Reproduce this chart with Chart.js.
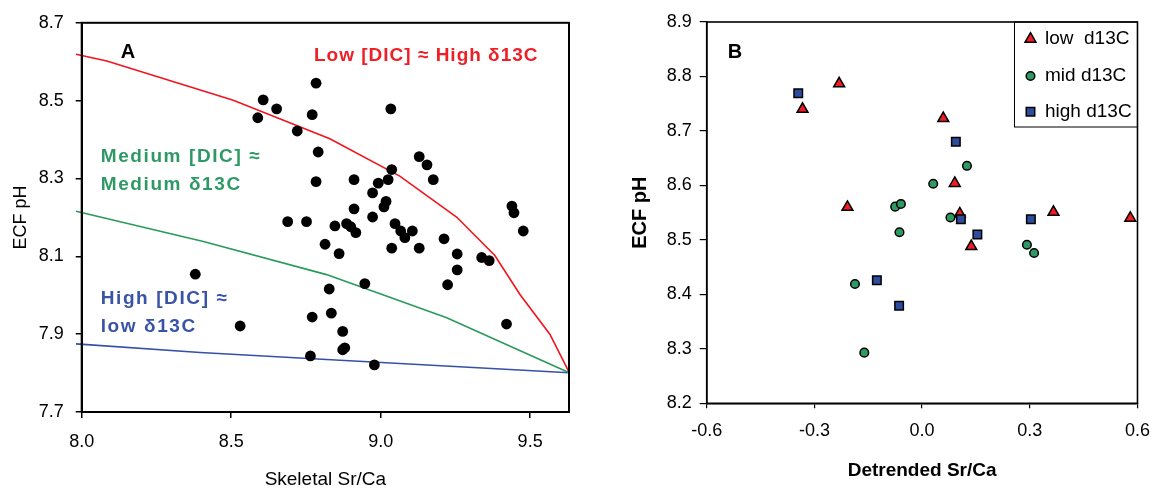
<!DOCTYPE html>
<html><head><meta charset="utf-8">
<script src="https://cdn.jsdelivr.net/npm/chart.js@4.4.1/dist/chart.umd.min.js"></script>
<style>
html,body{margin:0;padding:0;background:#fff;}
#wrap{position:relative;width:1162px;height:491px;overflow:hidden;}
#ca{position:absolute;left:0;top:0;width:590px;height:491px;}
#cb{position:absolute;left:590px;top:0;width:572px;height:491px;}
</style></head><body>
<div id="wrap"><canvas id="ca" width="590" height="491"></canvas><canvas id="cb" width="572" height="491"></canvas></div>
<script>
// ---------- Panel A data ----------
const srcaA = [8.589, 8.607, 8.652, 8.784, 8.771, 8.721, 8.791, 8.784, 9.034, 8.911,
  8.992, 9.025, 9.037, 8.973, 9.018, 9.011, 8.911, 8.973, 9.129, 9.155,
  9.176, 8.689, 8.752, 8.847, 8.886, 8.900, 8.917, 9.048, 9.067, 9.081,
  9.106, 9.212, 9.439, 9.446, 9.477, 8.814, 8.861, 9.037, 9.129, 9.256,
  9.338, 9.363, 9.256, 9.224, 8.380, 8.947, 8.828, 8.530, 8.771, 8.835,
  8.873, 8.873, 8.880, 8.765, 8.979, 9.421];
const phA = [8.456, 8.502, 8.479, 8.545, 8.464, 8.422, 8.368, 8.292, 8.479, 8.297,
  8.288, 8.297, 8.323, 8.263, 8.241, 8.227, 8.222, 8.201, 8.356, 8.335,
  8.297, 8.189, 8.189, 8.178, 8.184, 8.176, 8.161, 8.184, 8.165, 8.148,
  8.165, 8.145, 8.229, 8.212, 8.165, 8.131, 8.107, 8.121, 8.121, 8.106,
  8.097, 8.089, 8.065, 8.027, 8.054, 8.030, 8.016, 7.921, 7.944, 7.954,
  7.907, 7.860, 7.865, 7.844, 7.821, 7.926];
const redX = [7.981, 8.084, 8.507, 8.830, 9.064, 9.254, 9.382, 9.466, 9.566, 9.631];
const redY = [8.619, 8.602, 8.501, 8.402, 8.306, 8.201, 8.102, 8.002, 7.900, 7.801];
const greenX = [7.981, 8.407, 8.819, 9.221, 9.631];
const greenY = [8.216, 8.138, 8.053, 7.942, 7.801];
const blueX = [7.981, 8.396, 8.819, 9.631];
const blueY = [7.875, 7.853, 7.835, 7.801];
const xTicksA = [8.0, 8.5, 9.0, 9.5];
const yTicksA = [7.7, 7.9, 8.1, 8.3, 8.5, 8.7];

// ---------- Panel B data ----------
const lowX = [-0.231, -0.333, 0.059, -0.208, 0.091, 0.105, 0.366, 0.580, 0.137];
const lowY = [8.787, 8.740, 8.723, 8.560, 8.604, 8.548, 8.551, 8.540, 8.488];
const midX = [0.125, 0.031, -0.075, -0.059, 0.079, -0.063, 0.292, 0.312, -0.187, -0.161];
const midY = [8.636, 8.603, 8.561, 8.566, 8.541, 8.514, 8.491, 8.476, 8.419, 8.293];
const highX = [-0.345, 0.094, 0.108, 0.154, 0.303, -0.126, -0.064];
const highY = [8.769, 8.680, 8.538, 8.510, 8.538, 8.426, 8.379];
const xTicksB = [-0.6, -0.3, 0.0, 0.3, 0.6];
const yTicksB = [8.2, 8.3, 8.4, 8.5, 8.6, 8.7, 8.8, 8.9];

// ---------- helpers ----------
const FONT = '"Liberation Sans", Arial, Helvetica, sans-serif';
Chart.defaults.font.family = FONT;
Chart.defaults.color = '#000';
const pts = (xs, ys) => xs.map((x, i) => ({x: x, y: ys[i]}));
const fmt1 = v => Number(v).toFixed(1);
const fixTicks = arr => (s => { s.ticks = arr.map(v => ({value: v})); });

const frame = {
  id: 'frame',
  afterDraw(chart, args, opts) {
    const {ctx, chartArea: a} = chart;
    ctx.save();
    ctx.strokeStyle = '#000';
    ctx.lineWidth = opts.width || 2;
    ctx.strokeRect(a.left, a.top, a.right - a.left, a.bottom - a.top);
    ctx.restore();
  }
};
const notes = {
  id: 'notes',
  afterDraw(chart, args, opts) {
    const {ctx, chartArea: a} = chart;
    (opts.items || []).forEach(t => {
      ctx.save();
      ctx.font = t.font;
      ctx.fillStyle = t.color;
      ctx.textAlign = t.align || 'left';
      ctx.textBaseline = 'middle';
      if ('letterSpacing' in ctx) ctx.letterSpacing = (t.ls || 0) + 'px';
      ctx.fillText(t.text, a.left + t.dx, a.top + t.dy);
      ctx.restore();
    });
  }
};
const boxLegend = {
  id: 'boxLegend',
  afterDraw(chart, args, opts) {
    if (!opts.rows) return;
    const {ctx, chartArea: a} = chart;
    const L = a.right - opts.width, T = a.top;
    ctx.save();
    ctx.fillStyle = '#fff';
    ctx.fillRect(L, T, opts.width, opts.height);
    ctx.strokeStyle = '#000';
    ctx.lineWidth = 1;
    ctx.strokeRect(L, T, opts.width, opts.height);
    chart.data.datasets.forEach((ds, i) => {
      const y = T + opts.rows[i];
      ctx.fillStyle = ds.backgroundColor;
      ctx.strokeStyle = ds.borderColor;
      ctx.lineWidth = ds.borderWidth;
      Chart.helpers.drawPoint(ctx, {pointStyle: ds.pointStyle, radius: ds.pointRadius, rotation: 0, borderWidth: ds.borderWidth}, L + opts.markerX, y);
      ctx.fillStyle = '#000';
      ctx.font = opts.font;
      ctx.textAlign = 'left';
      ctx.textBaseline = 'middle';
      ctx.fillText(ds.label, L + opts.textX, y);
    });
    ctx.restore();
  }
};

// ---------- Panel A ----------
new Chart(document.getElementById('ca'), {
  type: 'scatter',
  data: {
    datasets: [
      {label: 'samples', data: pts(srcaA, phA), backgroundColor: '#000', borderColor: '#000', pointRadius: 5.4, borderWidth: 0},
      {label: 'Low DIC', data: pts(redX, redY), showLine: true, pointRadius: 0, borderColor: '#f2141c', borderWidth: 1.6, clip: false},
      {label: 'Medium DIC', data: pts(greenX, greenY), showLine: true, pointRadius: 0, borderColor: '#2a9a5c', borderWidth: 1.6, clip: false},
      {label: 'High DIC', data: pts(blueX, blueY), showLine: true, pointRadius: 0, borderColor: '#3550a8', borderWidth: 1.6, clip: false}
    ]
  },
  options: {
    responsive: false, animation: false, devicePixelRatio: 1,
    layout: {padding: {left: 0, top: 19, right: 21, bottom: 0}},
    plugins: {
      legend: {display: false}, tooltip: {enabled: false},
      frame: {width: 2},
      notes: {items: [
        {text: 'A', font: 'bold 20px ' + FONT, color: '#000', dx: 46.3, dy: 29.5, align: 'center'},
        {text: 'Low [DIC] ≈ High δ13C', font: 'bold 19px ' + FONT, color: '#ee1f26', dx: 232.3, dy: 33, ls: 1.0},
        {text: 'Medium [DIC] ≈', font: 'bold 19px ' + FONT, color: '#2f9966', dx: 19, dy: 134, ls: 1.6},
        {text: 'Medium δ13C', font: 'bold 19px ' + FONT, color: '#2f9966', dx: 19, dy: 162, ls: 1.6},
        {text: 'High [DIC] ≈', font: 'bold 19px ' + FONT, color: '#3953a6', dx: 19, dy: 276, ls: 1.6},
        {text: 'low δ13C', font: 'bold 19px ' + FONT, color: '#3953a6', dx: 19, dy: 304, ls: 1.6}
      ]}
    },
    scales: {
      x: {
        type: 'linear', min: 8.0, max: 9.63,
        afterBuildTicks: fixTicks(xTicksA),
        afterFit: s => { s.height = 79; },
        ticks: {font: {size: 18}, color: '#000', padding: 13, callback: fmt1, autoSkip: false, maxRotation: 0},
        grid: {drawOnChartArea: false, drawTicks: true, tickLength: 6, color: '#000', lineWidth: 1.5},
        border: {display: true, color: '#000', width: 2},
        title: {display: true, text: 'Skeletal Sr/Ca', font: {size: 19}, color: '#000', padding: {top: 0, bottom: 0}}
      },
      y: {
        type: 'linear', min: 7.7, max: 8.7,
        afterBuildTicks: fixTicks(yTicksA),
        afterFit: s => { s.width = 81.7; },
        ticks: {font: {size: 18}, color: '#000', padding: 12, callback: fmt1, autoSkip: false},
        grid: {drawOnChartArea: false, drawTicks: true, tickLength: 6, color: '#000', lineWidth: 1.5},
        border: {display: true, color: '#000', width: 2},
        title: {display: true, text: 'ECF pH', font: {size: 18}, color: '#000', padding: {top: 10, bottom: 0}}
      }
    }
  },
  plugins: [notes, frame]
});

// ---------- Panel B ----------
new Chart(document.getElementById('cb'), {
  type: 'scatter',
  data: {
    datasets: [
      {label: 'low  d13C', data: pts(lowX, lowY), pointStyle: 'triangle', pointRadius: 6.3, backgroundColor: '#ee1c24', borderColor: '#000', borderWidth: 1.5, order: 3},
      {label: 'mid d13C', data: pts(midX, midY), pointStyle: 'circle', pointRadius: 4.3, backgroundColor: '#2e9a63', borderColor: '#000', borderWidth: 1.5, order: 2},
      {label: 'high d13C', data: pts(highX, highY), pointStyle: 'rect', pointRadius: 6, backgroundColor: '#2e4c9e', borderColor: '#000', borderWidth: 1.5, order: 1}
    ]
  },
  options: {
    responsive: false, animation: false, devicePixelRatio: 1,
    layout: {padding: {left: 0, top: 22, right: 21.3, bottom: 0}},
    plugins: {
      legend: {display: false}, tooltip: {enabled: false},
      frame: {width: 1.6},
      notes: {items: [
        {text: 'B', font: 'bold 20px ' + FONT, color: '#000', dx: 28.3, dy: 30, align: 'center'}
      ]},
      boxLegend: {width: 123, height: 105, rows: [17, 54, 89.7], markerX: 16, textX: 30.5, font: '19px ' + FONT}
    },
    scales: {
      x: {
        type: 'linear', min: -0.6, max: 0.6,
        afterBuildTicks: fixTicks(xTicksB),
        afterFit: s => { s.height = 87.7; },
        ticks: {font: {size: 18}, color: '#000', padding: 12, callback: fmt1, autoSkip: false, maxRotation: 0},
        grid: {drawOnChartArea: false, drawTicks: true, tickLength: 5, color: '#000', lineWidth: 1.2},
        border: {display: true, color: '#000', width: 1.6},
        title: {display: true, text: 'Detrended Sr/Ca', font: {size: 19, weight: 'bold'}, color: '#000', padding: {top: 0, bottom: 9}}
      },
      y: {
        type: 'linear', min: 8.2, max: 8.9,
        afterBuildTicks: fixTicks(yTicksB),
        afterFit: s => { s.width = 116.7; },
        ticks: {font: {size: 18}, color: '#000', padding: 8, callback: fmt1, autoSkip: false},
        grid: {drawOnChartArea: false, drawTicks: true, tickLength: 7, color: '#000', lineWidth: 1.2},
        border: {display: true, color: '#000', width: 1.6},
        title: {display: true, text: 'ECF pH', font: {size: 20, weight: 'bold'}, color: '#000', padding: {top: 38, bottom: 0}}
      }
    }
  },
  plugins: [notes, boxLegend, frame]
});
</script>
</body></html>
